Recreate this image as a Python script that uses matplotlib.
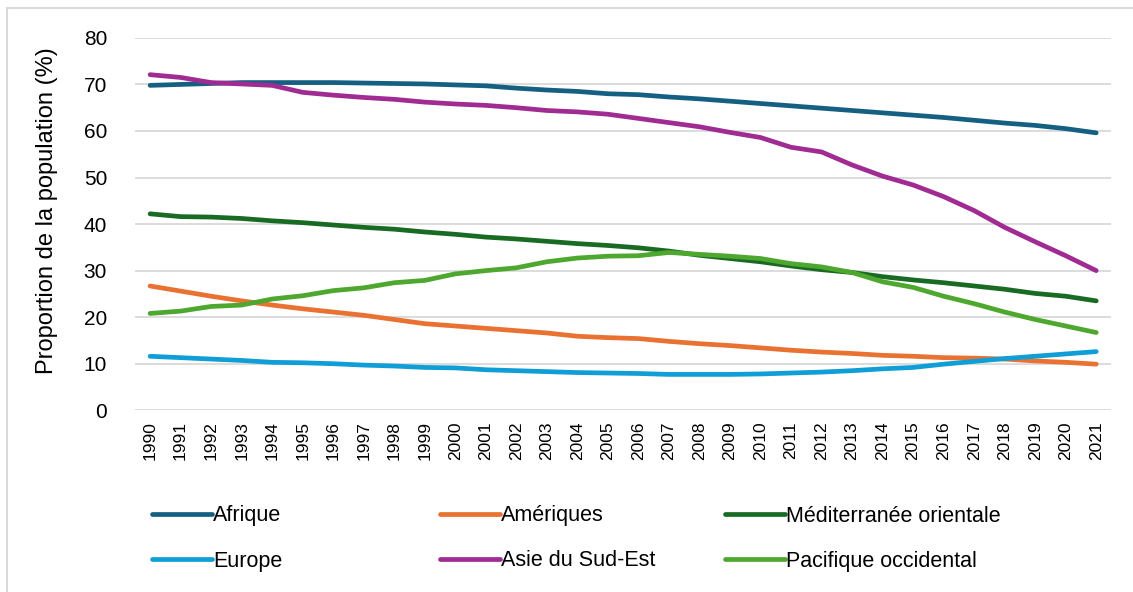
import matplotlib
matplotlib.use("Agg")
import matplotlib.pyplot as plt
from matplotlib import font_manager
from matplotlib.patches import Rectangle

years = list(range(1990, 2022))
afrique = [69.8, 70.0, 70.2, 70.4, 70.4, 70.4, 70.4, 70.3, 70.2, 70.1, 69.9, 69.7, 69.2, 68.8, 68.5, 68.0,
           67.8, 67.3, 66.9, 66.4, 65.9, 65.4, 64.9, 64.4, 63.9, 63.4, 62.9, 62.3, 61.7, 61.2, 60.5, 59.6]
ameriques = [26.7, 25.6, 24.5, 23.5, 22.6, 21.8, 21.1, 20.4, 19.5, 18.6, 18.1, 17.6, 17.1, 16.6, 15.9, 15.6,
             15.4, 14.8, 14.3, 13.9, 13.4, 12.9, 12.5, 12.2, 11.8, 11.6, 11.3, 11.2, 11.0, 10.6, 10.3, 9.9]
mediterranee = [42.2, 41.6, 41.5, 41.2, 40.7, 40.3, 39.8, 39.3, 38.9, 38.3, 37.8, 37.2, 36.8, 36.3, 35.8, 35.4,
                34.9, 34.2, 33.3, 32.6, 31.9, 31.0, 30.2, 29.6, 28.7, 28.0, 27.4, 26.7, 26.0, 25.1, 24.5, 23.5]
europe = [11.6, 11.3, 11.0, 10.7, 10.3, 10.2, 10.0, 9.7, 9.5, 9.2, 9.1, 8.7, 8.5, 8.3, 8.1, 8.0,
          7.9, 7.7, 7.7, 7.7, 7.8, 8.0, 8.2, 8.5, 8.9, 9.2, 9.9, 10.5, 11.1, 11.6, 12.1, 12.6]
asie = [72.1, 71.5, 70.4, 70.1, 69.8, 68.3, 67.7, 67.2, 66.8, 66.2, 65.8, 65.5, 65.0, 64.4, 64.1, 63.6,
        62.7, 61.8, 60.9, 59.7, 58.6, 56.5, 55.5, 52.7, 50.3, 48.4, 45.9, 42.9, 39.3, 36.2, 33.2, 30.0]
pacifique = [20.8, 21.3, 22.3, 22.6, 23.9, 24.6, 25.7, 26.3, 27.4, 27.9, 29.3, 30.0, 30.6, 31.9, 32.7, 33.1,
             33.2, 33.9, 33.5, 33.1, 32.6, 31.5, 30.8, 29.6, 27.6, 26.4, 24.5, 22.9, 21.1, 19.5, 18.1, 16.7]

series = [
    ("Afrique", afrique, "#156082"),
    ("Amériques", ameriques, "#E97132"),
    ("Méditerranée orientale", mediterranee, "#196B24"),
    ("Europe", europe, "#0F9ED5"),
    ("Asie du Sud-Est", asie, "#A02B93"),
    ("Pacifique occidental", pacifique, "#4EA72E"),
]
y_label = "Proportion de la population (%)"

names = {f.name for f in font_manager.fontManager.ttflist}
main_font = "Liberation Sans" if "Liberation Sans" in names else "DejaVu Sans"
plt.rcParams["font.family"] = [main_font, "DejaVu Sans"]

W, H = 1133, 592
fig = plt.figure(figsize=(W / 100, H / 100), dpi=100)
fig.patches.append(Rectangle((7 / W, -0.05), 1.1, 1 - 8 / H + 0.05, transform=fig.transFigure,
                             fill=False, edgecolor="#d9d9d9", lw=1.5, zorder=0))
ax_l, ax_b, ax_w, ax_h = 0.119, 0.307, 0.862, 0.629
ax = fig.add_axes([ax_l, ax_b, ax_w, ax_h])

handles = {}
for name, vals, col in series:
    ln, = ax.plot(years, vals, color=col, lw=3.4, solid_capstyle="round", solid_joinstyle="round", label=name)
    handles[name] = ln

ax.set_xlim(1989.5, 2021.5)
ax.set_ylim(0, 80)
ax.set_yticks(range(0, 81, 10))
ax.set_xticks(years)
ax.set_xticklabels([str(y) for y in years], rotation=90, fontsize=12.5)
ax.tick_params(axis="y", labelsize=15, length=0, pad=20)
ax.tick_params(axis="x", length=0, pad=8)
ax.grid(axis="y", color="#d9d9d9", lw=1.3)
ax.set_axisbelow(True)
for s in ax.spines.values():
    s.set_visible(False)
ax.set_ylabel(y_label, fontsize=17)
# label centre at pixel x=47, y=211 (from top)
ax.yaxis.set_label_coords((47 - ax_l * W) / (ax_w * W), ((H - 211) - ax_b * H) / (ax_h * H))
ax.yaxis.label.set_verticalalignment("center")

legend_pos = {
    "Afrique": (152, 516), "Amériques": (440, 516), "Méditerranée orientale": (725, 516),
    "Europe": (152, 561), "Asie du Sud-Est": (440, 561), "Pacifique occidental": (725, 561),
}
for name, (px, py) in legend_pos.items():
    fig.legend([handles[name]], [name], loc="center left",
               bbox_to_anchor=(px / W, 1 - py / H), frameon=False,
               handlelength=2.8, handletextpad=0.05,
               prop={"size": 15.5}, borderaxespad=0, borderpad=0)

fig.savefig("out.png", dpi=100)
